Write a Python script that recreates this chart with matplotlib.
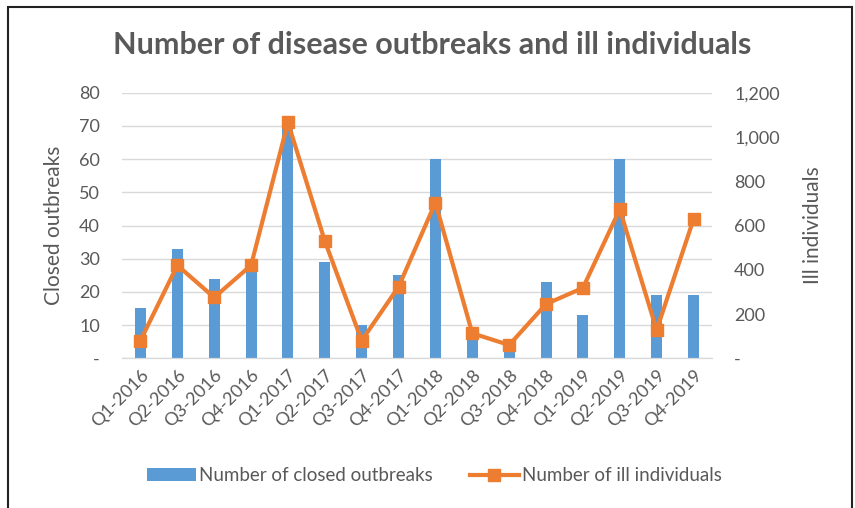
import numpy as np
import matplotlib.pyplot as plt
from matplotlib.patches import Rectangle
from matplotlib.ticker import FuncFormatter

quarters = ['Q1-2016', 'Q2-2016', 'Q3-2016', 'Q4-2016',
            'Q1-2017', 'Q2-2017', 'Q3-2017', 'Q4-2017',
            'Q1-2018', 'Q2-2018', 'Q3-2018', 'Q4-2018',
            'Q1-2019', 'Q2-2019', 'Q3-2019', 'Q4-2019']
closed_outbreaks = [15, 33, 24, 26, 70, 29, 10, 25, 60, 7, 3, 23, 13, 60, 19, 19]
ill_individuals = [80, 420, 275, 420, 1066, 530, 80, 323, 703, 113, 60, 245, 318, 673, 128, 628]

BLUE = '#5B9BD5'
ORANGE = '#ED7D31'
GRAY = '#595959'

plt.rcParams['font.family'] = ['Lato', 'DejaVu Sans']

fig = plt.figure(figsize=(8.55, 5.08), dpi=100)
ax = fig.add_axes([0.1427, 0.2947, 0.690, 0.5228])
ax2 = ax.twinx()

x = np.arange(len(quarters))
ax.bar(x, closed_outbreaks, width=0.3, color=BLUE, zorder=2,
       label='Number of closed outbreaks')
ax2.plot(x, ill_individuals, color=ORANGE, lw=3, marker='s', ms=8.5,
         zorder=3, label='Number of ill individuals')

ax.set_xlim(-0.5, len(quarters) - 0.5)
ax.set_ylim(0, 80)
ax2.set_ylim(0, 1200)
ax.set_yticks(range(0, 81, 10))
ax2.set_yticks(range(0, 1201, 200))

ax.yaxis.set_major_formatter(FuncFormatter(lambda v, p: '-' if v == 0 else f'{v:.0f}'))
ax2.yaxis.set_major_formatter(FuncFormatter(lambda v, p: '-' if v == 0 else f'{v:,.0f}'))

ax.grid(axis='y', color='#D9D9D9', lw=1, zorder=0)
ax.set_axisbelow(True)
for a in (ax, ax2):
    for s in ('top', 'left', 'right'):
        a.spines[s].set_visible(False)
    a.spines['bottom'].set_color('#D9D9D9')
    a.tick_params(length=0, colors=GRAY, labelsize=13)

ax.set_xticks(x)
ax.set_xticklabels(quarters, rotation=45, ha='right', rotation_mode='anchor')
ax.tick_params(axis='x', pad=6)
ax.tick_params(axis='y', pad=16)
ax2.tick_params(axis='y', pad=16)

ax.set_ylabel('Closed outbreaks', color=GRAY, fontsize=15)
ax2.set_ylabel('Ill individuals', color=GRAY, fontsize=15)
ax.yaxis.set_label_coords(-0.098, 0.5)
ax2.yaxis.set_label_coords(1.155, 0.5)

fig.text(0.505, 0.911, 'Number of disease outbreaks and ill individuals',
         ha='center', va='center', fontsize=22, fontweight='bold', color=GRAY)

h1, l1 = ax.get_legend_handles_labels()
h2, l2 = ax2.get_legend_handles_labels()
fig.legend(h1 + h2, l1 + l2, loc='center', bbox_to_anchor=(0.508, 0.063),
           ncol=2, frameon=False, fontsize=13.5, labelcolor=GRAY,
           handlelength=2.6, handletextpad=0.15, columnspacing=2.0)

fig.patches.append(Rectangle((8 / 855, -0.05), 844 / 855, 1.05 - 7 / 508,
                             transform=fig.transFigure, fill=False,
                             edgecolor='#222222', lw=1.5))

fig.savefig('out.png', dpi=100)
